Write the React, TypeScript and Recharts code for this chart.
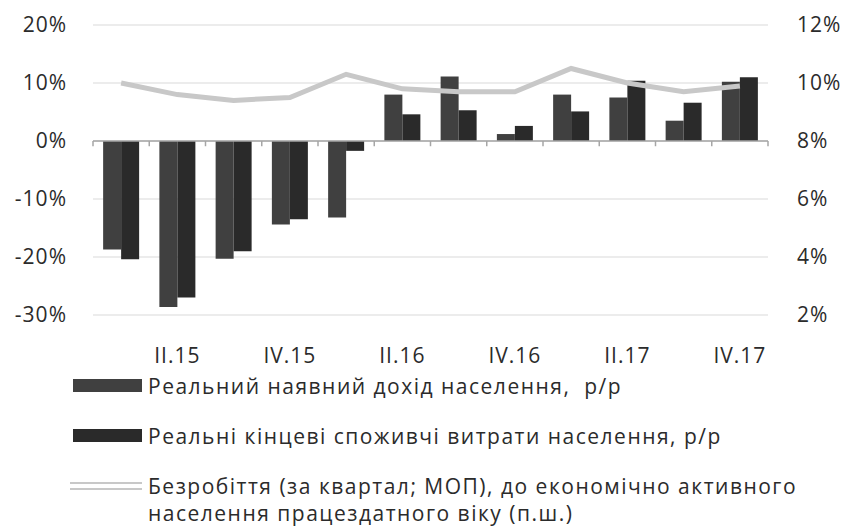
import React from "react"
import {
  ComposedChart,
  Bar,
  Line,
  XAxis,
  YAxis,
  CartesianGrid,
  ReferenceLine
} from "recharts"

const quarters = ["I.15", "II.15", "III.15", "IV.15", "I.16", "II.16", "III.16", "IV.16", "I.17", "II.17", "III.17", "IV.17"]
const income = [-18.7, -28.6, -20.3, -14.4, -13.2, 8.0, 11.1, 1.2, 8.0, 7.5, 3.5, 10.2]
const consumption = [-20.4, -27.0, -19.0, -13.5, -1.7, 4.6, 5.3, 2.6, 5.1, 10.4, 6.6, 11.0]
const unemployment = [10.0, 9.6, 9.4, 9.5, 10.3, 9.8, 9.7, 9.7, 10.5, 10.0, 9.7, 9.9]

const leftTicks = [-30, -20, -10, 0, 10, 20]
const rightTicks = [2, 4, 6, 8, 10, 12]

const seriesNames = [
  "Реальний наявний дохід населення,  р/р",
  "Реальні кінцеві споживчі витрати населення, р/р",
  "Безробіття (за квартал; МОП), до економічно активного",
  "населення працездатного віку (п.ш.)"
]

const data = quarters.map((q, i) => ({
  q,
  income: income[i],
  consumption: consumption[i],
  unemployment: unemployment[i]
}))

const FONT = "'Open Sans', sans-serif"
const TEXT = "#2b2b2b"

export default function App() {
  const tickStyle = { fill: TEXT, fontSize: 21, fontFamily: FONT, letterSpacing: 1 }
  const legendText = {
    position: "absolute" as const,
    left: 148,
    fontSize: 21,
    letterSpacing: 1.5,
    color: TEXT,
    whiteSpace: "pre" as const
  }
  return (
    <div style={{ position: "absolute", left: 0, top: 0, width: 845, height: 526, background: "#fff", fontFamily: FONT }}>
      <ComposedChart
        width={845}
        height={526}
        data={data}
        margin={{ top: 25, right: 0, left: 0, bottom: 171 }}
        barCategoryGap="18%"
        barGap={0}
      >
        <CartesianGrid vertical={false} stroke="#d9d9d9" yAxisId="left" />
        <XAxis
          dataKey="q"
          height={40}
          axisLine={false}
          tickLine={false}
          tickSize={0}
          tickMargin={33}
          interval={0}
          tick={tickStyle}
          tickFormatter={(v: string, i: number) => (i % 2 === 1 ? v : "")}
        />
        <YAxis
          yAxisId="left"
          width={93}
          domain={[-30, 20]}
          ticks={leftTicks}
          axisLine={false}
          tickLine={false}
          tickSize={0}
          tickMargin={26}
          tick={tickStyle}
          tickFormatter={(v: number) => `${v}%`}
        />
        <YAxis
          yAxisId="right"
          orientation="right"
          width={77}
          domain={[2, 12]}
          ticks={rightTicks}
          axisLine={false}
          tickLine={false}
          tickSize={0}
          tickMargin={29}
          tick={{ ...tickStyle, textAnchor: "start" }}
          tickFormatter={(v: number) => `${v}%`}
        />
        <Bar yAxisId="left" dataKey="income" fill="#404040" isAnimationActive={false} />
        <Bar yAxisId="left" dataKey="consumption" fill="#2a2a2a" isAnimationActive={false} />
        <ReferenceLine yAxisId="left" y={0} stroke="#a6a6a6" strokeWidth={1.5} />
        {quarters.map((q) => (
          <ReferenceLine
            key={q}
            yAxisId="left"
            position="start"
            segment={[{ x: q, y: 0 }, { x: q, y: -0.9 }]}
            stroke="#a6a6a6"
            strokeWidth={1.5}
          />
        ))}
        <ReferenceLine
          yAxisId="left"
          position="end"
          segment={[{ x: quarters[quarters.length - 1], y: 0 }, { x: quarters[quarters.length - 1], y: -0.9 }]}
          stroke="#a6a6a6"
          strokeWidth={1.5}
        />
        <Line
          yAxisId="right"
          dataKey="unemployment"
          stroke="#c8c8c8"
          strokeWidth={5}
          dot={false}
          isAnimationActive={false}
        />
      </ComposedChart>

      {/* legend */}
      <div style={{ position: "absolute", left: 73, top: 379, width: 69, height: 13, background: "#404040" }} />
      <div style={{ ...legendText, top: 372, lineHeight: "28px" }}>{seriesNames[0]}</div>
      <div style={{ position: "absolute", left: 73, top: 429, width: 69, height: 13, background: "#2a2a2a" }} />
      <div style={{ ...legendText, top: 422, lineHeight: "28px" }}>{seriesNames[1]}</div>
      <div style={{ position: "absolute", left: 70, top: 482, width: 72, height: 2, background: "#c8c8c8" }} />
      <div style={{ position: "absolute", left: 70, top: 488, width: 72, height: 2, background: "#c8c8c8" }} />
      <div style={{ ...legendText, top: 473, lineHeight: "27px" }}>
        {seriesNames[2]}
        {"\n"}
        {seriesNames[3]}
      </div>
    </div>
  )
}
